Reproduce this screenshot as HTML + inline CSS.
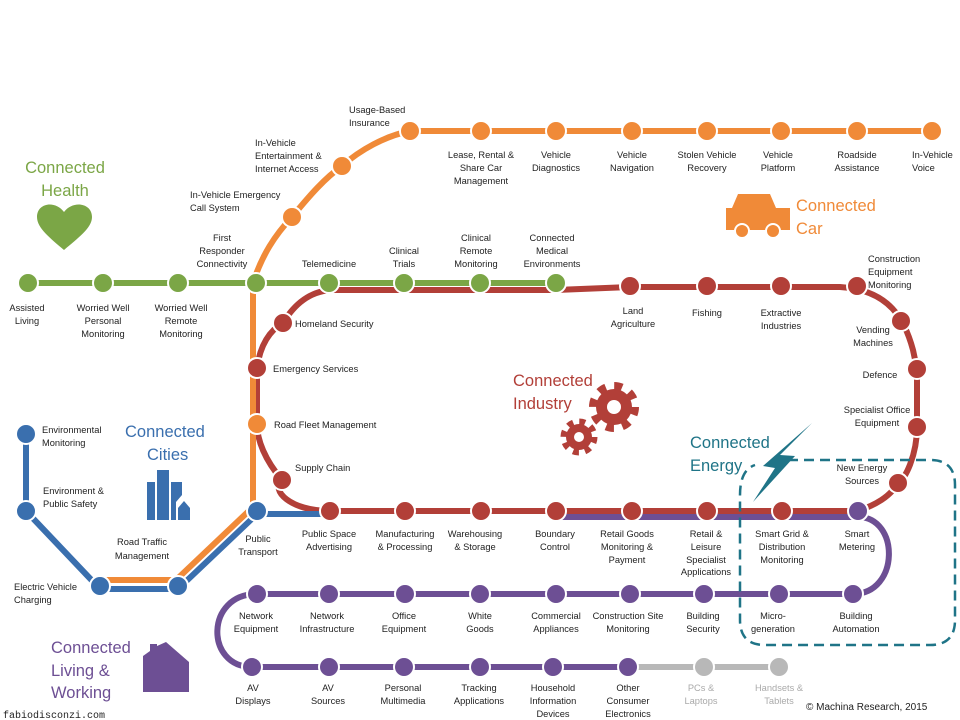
<!DOCTYPE html>
<html><head><meta charset="utf-8"><style>
html,body{margin:0;padding:0;background:#fff;}
svg{display:block;}
text{font-family:"Liberation Sans",sans-serif;font-size:9.3px;fill:#222;}
.m{text-anchor:middle;}
.t{font-size:16.5px;}
</style></head><body>
<svg width="960" height="720" viewBox="0 0 960 720" xmlns="http://www.w3.org/2000/svg">
<rect width="960" height="720" fill="#fff"/>
<g fill="none" stroke-linecap="butt" stroke-linejoin="round">
<path d="M556,517 H858 C900,517 900,594 853,594 H257 C205,594 205,667 252,667 H628" stroke="#6d4f94" stroke-width="6"/>
<path d="M628,667 H779" stroke="#b8b8b8" stroke-width="6"/>
<path d="M330,290 H556 L630,287 H840 C890,290 905,320 913,350 L917,369 V427 C917,455 905,480 898,483 C890,497 875,505 858,511 H330 C290,511 270,490 282,480 C265,460 257,440 257,424 V368 C260,345 270,330 283,323 C295,303 310,292 330,290 Z" stroke="#b23f38" stroke-width="6"/>
<path d="M26,434 V511 L100,589 H178 L257,514 H330" stroke="#3a6fae" stroke-width="6"/>
<path d="M100,580 H176 L253,507 V283 C262,255 275,235 292,217 C310,195 325,178 342,166 C360,150 385,136 410,131 H932" stroke="#f08a38" stroke-width="6"/>
<path d="M28,283 H556" stroke="#7ba646" stroke-width="6"/>
<path d="M772,460 H930 Q955,460 955,485 V620 Q955,645 930,645 H765 Q740,645 740,620 V495 Q740,470 755,465" stroke="#1f7487" stroke-width="2.5" stroke-dasharray="10,6"/>
</g>
<g stroke="#fff" stroke-width="2">
<g fill="#f08a38">
<circle cx="292" cy="217" r="10"/><circle cx="342" cy="166" r="10"/><circle cx="410" cy="131" r="10"/>
<circle cx="481" cy="131" r="10"/><circle cx="556" cy="131" r="10"/><circle cx="632" cy="131" r="10"/><circle cx="707" cy="131" r="10"/><circle cx="781" cy="131" r="10"/><circle cx="857" cy="131" r="10"/><circle cx="932" cy="131" r="10"/>
<circle cx="257" cy="424" r="10"/>
</g>
<g fill="#7ba646">
<circle cx="28" cy="283" r="10"/><circle cx="103" cy="283" r="10"/><circle cx="178" cy="283" r="10"/><circle cx="256" cy="283" r="10"/><circle cx="329" cy="283" r="10"/><circle cx="404" cy="283" r="10"/><circle cx="480" cy="283" r="10"/><circle cx="556" cy="283" r="10"/>
</g>
<g fill="#b23f38">
<circle cx="630" cy="286" r="10"/><circle cx="707" cy="286" r="10"/><circle cx="781" cy="286" r="10"/><circle cx="857" cy="286" r="10"/>
<circle cx="901" cy="321" r="10"/><circle cx="917" cy="369" r="10"/><circle cx="917" cy="427" r="10"/><circle cx="898" cy="483" r="10"/>
<circle cx="283" cy="323" r="10"/><circle cx="257" cy="368" r="10"/><circle cx="282" cy="480" r="10"/>
<circle cx="330" cy="511" r="10"/><circle cx="405" cy="511" r="10"/><circle cx="481" cy="511" r="10"/><circle cx="556" cy="511" r="10"/><circle cx="632" cy="511" r="10"/><circle cx="707" cy="511" r="10"/><circle cx="782" cy="511" r="10"/>
</g>
<g fill="#3a6fae">
<circle cx="26" cy="434" r="10"/><circle cx="26" cy="511" r="10"/><circle cx="100" cy="586" r="10"/><circle cx="178" cy="586" r="10"/><circle cx="257" cy="511" r="10"/>
</g>
<g fill="#6d4f94">
<circle cx="858" cy="511" r="10"/>
<circle cx="257" cy="594" r="10"/><circle cx="329" cy="594" r="10"/><circle cx="405" cy="594" r="10"/><circle cx="480" cy="594" r="10"/><circle cx="556" cy="594" r="10"/><circle cx="630" cy="594" r="10"/><circle cx="704" cy="594" r="10"/><circle cx="779" cy="594" r="10"/><circle cx="853" cy="594" r="10"/>
<circle cx="252" cy="667" r="10"/><circle cx="329" cy="667" r="10"/><circle cx="404" cy="667" r="10"/><circle cx="480" cy="667" r="10"/><circle cx="553" cy="667" r="10"/><circle cx="628" cy="667" r="10"/>
</g>
<g fill="#b8b8b8"><circle cx="704" cy="667" r="10"/><circle cx="779" cy="667" r="10"/></g>
</g>

<path d="M64,250 C50,238 37,228 37,217 C37,203 55,200 64,212 C73,200 92,203 92,217 C92,228 78,238 64,250 Z" fill="#7ba646"/>
<g fill="#f08a38"><path d="M738,194 H770 L776,208 H790 V230 H726 V208 H732 Z"/><circle cx="742" cy="231" r="7" stroke="#fff" stroke-width="2"/><circle cx="773" cy="231" r="7" stroke="#fff" stroke-width="2"/></g>
<g fill="#3a6fae"><rect x="147" y="482" width="8" height="38"/><rect x="157" y="470" width="12" height="50"/><path d="M171,482 H182 V495 L176,502 V520 H171 Z"/><path d="M178,508 L184,501 L190,508 V520 H178 Z"/></g>
<path d="M143,692 V656 L150,651 V644 H157 V646 L166,642 L189,662 V692 Z" fill="#6d4f94"/>
<g>
<circle cx="614" cy="407" r="18" fill="#b23f38"/><circle cx="614" cy="407" r="21" fill="none" stroke="#b23f38" stroke-width="8" stroke-dasharray="8,8.5"/>
<circle cx="579" cy="437" r="13" fill="#b23f38"/><circle cx="579" cy="437" r="15.5" fill="none" stroke="#b23f38" stroke-width="6" stroke-dasharray="6,6.2"/>
<circle cx="614" cy="407" r="7" fill="#fff"/><circle cx="579" cy="437" r="5" fill="#fff"/>
</g>
<path d="M812,423 L780,455 L795,456 L753,502 L775,468 L763,466 Z" fill="#1f7487"/>

<g>
<text x="65" y="173" class="m t" style="fill:#7ba646">Connected</text>
<text x="65" y="196" class="m t" style="fill:#7ba646">Health</text>
<text x="796" y="211" class="t" style="fill:#f08a38">Connected</text>
<text x="796" y="234" class="t" style="fill:#f08a38">Car</text>
<text x="513" y="386" class="t" style="fill:#b23f38">Connected</text>
<text x="513" y="409" class="t" style="fill:#b23f38">Industry</text>
<text x="690" y="448" class="t" style="fill:#1f7487">Connected</text>
<text x="690" y="471" class="t" style="fill:#1f7487">Energy</text>
<text x="125" y="437" class="t" style="fill:#3a6fae">Connected</text>
<text x="147" y="460" class="t" style="fill:#3a6fae">Cities</text>
<text x="51" y="653" class="t" style="fill:#6d4f94">Connected</text>
<text x="51" y="676" class="t" style="fill:#6d4f94">Living &amp;</text>
<text x="51" y="698" class="t" style="fill:#6d4f94">Working</text>
</g>

<text x="349" y="113">Usage-Based</text><text x="349" y="126">Insurance</text>
<text x="255" y="146">In-Vehicle</text><text x="255" y="159">Entertainment &amp;</text><text x="255" y="172">Internet Access</text>
<text x="190" y="198">In-Vehicle Emergency</text><text x="190" y="211">Call System</text>
<text x="481" y="158" class="m">Lease, Rental &amp;</text><text x="481" y="171" class="m">Share Car</text><text x="481" y="184" class="m">Management</text>
<text x="556" y="158" class="m">Vehicle</text><text x="556" y="171" class="m">Diagnostics</text>
<text x="632" y="158" class="m">Vehicle</text><text x="632" y="171" class="m">Navigation</text>
<text x="707" y="158" class="m">Stolen Vehicle</text><text x="707" y="171" class="m">Recovery</text>
<text x="778" y="158" class="m">Vehicle</text><text x="778" y="171" class="m">Platform</text>
<text x="857" y="158" class="m">Roadside</text><text x="857" y="171" class="m">Assistance</text>
<text x="912" y="158">In-Vehicle</text><text x="912" y="171">Voice</text>
<text x="222" y="241" class="m">First</text><text x="222" y="254" class="m">Responder</text><text x="222" y="267" class="m">Connectivity</text>
<text x="329" y="267" class="m">Telemedicine</text>
<text x="404" y="254" class="m">Clinical</text><text x="404" y="267" class="m">Trials</text>
<text x="476" y="241" class="m">Clinical</text><text x="476" y="254" class="m">Remote</text><text x="476" y="267" class="m">Monitoring</text>
<text x="552" y="241" class="m">Connected</text><text x="552" y="254" class="m">Medical</text><text x="552" y="267" class="m">Environments</text>
<text x="27" y="311" class="m">Assisted</text><text x="27" y="324" class="m">Living</text>
<text x="103" y="311" class="m">Worried Well</text><text x="103" y="324" class="m">Personal</text><text x="103" y="337" class="m">Monitoring</text>
<text x="181" y="311" class="m">Worried Well</text><text x="181" y="324" class="m">Remote</text><text x="181" y="337" class="m">Monitoring</text>
<text x="295" y="327">Homeland Security</text>
<text x="273" y="372">Emergency Services</text>
<text x="274" y="428">Road Fleet Management</text>
<text x="295" y="471">Supply Chain</text>
<text x="633" y="314" class="m">Land</text><text x="633" y="327" class="m">Agriculture</text>
<text x="707" y="316" class="m">Fishing</text>
<text x="781" y="316" class="m">Extractive</text><text x="781" y="329" class="m">Industries</text>
<text x="868" y="262">Construction</text><text x="868" y="275">Equipment</text><text x="868" y="288">Monitoring</text>
<text x="873" y="333" class="m">Vending</text><text x="873" y="346" class="m">Machines</text>
<text x="880" y="378" class="m">Defence</text>
<text x="877" y="413" class="m">Specialist Office</text><text x="877" y="426" class="m">Equipment</text>
<text x="862" y="471" class="m">New Energy</text><text x="862" y="484" class="m">Sources</text>
<text x="258" y="542" class="m">Public</text><text x="258" y="555" class="m">Transport</text>
<text x="329" y="537" class="m">Public Space</text><text x="329" y="550" class="m">Advertising</text>
<text x="405" y="537" class="m">Manufacturing</text><text x="405" y="550" class="m">&amp; Processing</text>
<text x="475" y="537" class="m">Warehousing</text><text x="475" y="550" class="m">&amp; Storage</text>
<text x="555" y="537" class="m">Boundary</text><text x="555" y="550" class="m">Control</text>
<text x="627" y="537" class="m">Retail Goods</text><text x="627" y="550" class="m">Monitoring &amp;</text><text x="627" y="563" class="m">Payment</text>
<text x="706" y="537" class="m">Retail &amp;</text><text x="706" y="550" class="m">Leisure</text><text x="706" y="563" class="m">Specialist</text><text x="706" y="575" class="m">Applications</text>
<text x="782" y="537" class="m">Smart Grid &amp;</text><text x="782" y="550" class="m">Distribution</text><text x="782" y="563" class="m">Monitoring</text>
<text x="857" y="537" class="m">Smart</text><text x="857" y="550" class="m">Metering</text>
<text x="42" y="433">Environmental</text><text x="42" y="446">Monitoring</text>
<text x="43" y="494">Environment &amp;</text><text x="43" y="507">Public Safety</text>
<text x="142" y="545" class="m">Road Traffic</text><text x="142" y="559" class="m">Management</text>
<text x="14" y="590">Electric Vehicle</text><text x="14" y="603">Charging</text>
<text x="256" y="619" class="m">Network</text><text x="256" y="632" class="m">Equipment</text>
<text x="327" y="619" class="m">Network</text><text x="327" y="632" class="m">Infrastructure</text>
<text x="404" y="619" class="m">Office</text><text x="404" y="632" class="m">Equipment</text>
<text x="480" y="619" class="m">White</text><text x="480" y="632" class="m">Goods</text>
<text x="556" y="619" class="m">Commercial</text><text x="556" y="632" class="m">Appliances</text>
<text x="628" y="619" class="m">Construction Site</text><text x="628" y="632" class="m">Monitoring</text>
<text x="703" y="619" class="m">Building</text><text x="703" y="632" class="m">Security</text>
<text x="773" y="619" class="m">Micro-</text><text x="773" y="632" class="m">generation</text>
<text x="856" y="619" class="m">Building</text><text x="856" y="632" class="m">Automation</text>
<text x="253" y="691" class="m">AV</text><text x="253" y="704" class="m">Displays</text>
<text x="328" y="691" class="m">AV</text><text x="328" y="704" class="m">Sources</text>
<text x="403" y="691" class="m">Personal</text><text x="403" y="704" class="m">Multimedia</text>
<text x="479" y="691" class="m">Tracking</text><text x="479" y="704" class="m">Applications</text>
<text x="553" y="691" class="m">Household</text><text x="553" y="704" class="m">Information</text><text x="553" y="717" class="m">Devices</text>
<text x="628" y="691" class="m">Other</text><text x="628" y="704" class="m">Consumer</text><text x="628" y="717" class="m">Electronics</text>
<text x="701" y="691" class="m" style="fill:#aaa">PCs &amp;</text><text x="701" y="704" class="m" style="fill:#aaa">Laptops</text>
<text x="779" y="691" class="m" style="fill:#aaa">Handsets &amp;</text><text x="779" y="704" class="m" style="fill:#aaa">Tablets</text>
<text x="806" y="710" style="font-size:10px">© Machina Research, 2015</text>
<text x="3" y="718" style="font-family:'Liberation Mono',monospace;font-size:10px">fabiodisconzi.com</text>
</svg>
</body></html>
